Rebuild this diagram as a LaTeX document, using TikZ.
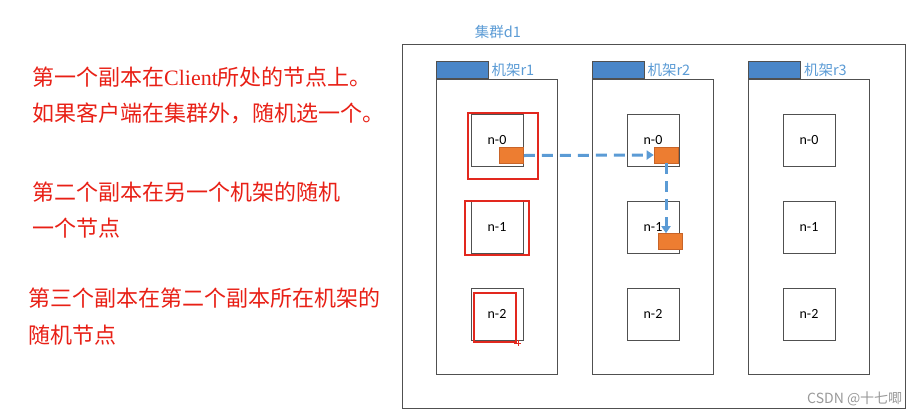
\documentclass[tikz,border=0pt]{standalone}
\usepackage{fontspec}
\setmainfont{Carlito}
\newfontfamily\cjk{Noto Sans CJK SC}
\newfontfamily\clientfont{Liberation Serif}
\usetikzlibrary{positioning}
\usetikzlibrary{arrows.meta}
\definecolor{linegray}{RGB}{80,80,80}
\definecolor{headblue}{RGB}{74,134,200}
\definecolor{labelblue}{RGB}{91,155,213}
\definecolor{arrowblue}{RGB}{91,155,213}
\definecolor{blkorange}{RGB}{237,125,49}
\definecolor{orangeedge}{RGB}{200,100,40}
\definecolor{notered}{RGB}{232,32,22}
\definecolor{markred}{RGB}{226,40,30}

\begin{document}
\begin{tikzpicture}[x=1pt, y=-1pt,
    rack/.style={draw=linegray, line width=1pt, minimum width=121pt, minimum height=295pt, inner sep=0pt},
    head/.style={draw=linegray, fill=headblue, line width=0.8pt, minimum width=52pt, minimum height=17pt, inner sep=0pt},
    srv/.style={draw=linegray, fill=white, line width=1pt, minimum size=52pt, inner sep=0pt, font=\fontsize{14}{14}\selectfont},
    blk/.style={draw=orangeedge, fill=blkorange, line width=0.6pt, minimum width=24pt, minimum height=16pt, inner sep=0pt},
    tag/.style={text=labelblue, inner sep=0pt, font=\cjk\fontsize{14.5}{15}\selectfont},
    note/.style={text=notered, anchor=west, inner sep=0pt, font=\cjk\fontsize{22}{22}\selectfont},
    redmark/.style={draw=markred, line width=1.2pt},
    repl/.style={draw=arrowblue, line width=3pt, dash pattern=on 11pt off 7pt, -{Triangle[length=7pt,width=9pt]}}]

    \useasboundingbox (0,0) rectangle (923,416);

    % notes
    \node[note] at (32,77) (t1) {第一个副本在{\clientfont Client}所处的节点上。};
    \node[note] at (32,113) (t2) {如果客户端在集群外，随机选一个。};
    \node[note] at (32,192) (t3) {第二个副本在另一个机架的随机};
    \node[note] at (32,228) (t4) {一个节点};
    \node[note] at (28,298) (t5) {第三个副本在第二个副本所在机架的};
    \node[note] at (28,335) (t6) {随机节点};

    % cluster
    \node[draw=linegray, line width=1pt, minimum width=503pt, minimum height=364pt] at (653.5,226) (d1) {};
    \node[tag] at (498,32) (ld1) {集群d1};

    % racks
    \node[rack] at (496.5,226.5) (r1) {};
    \node[rack] at (652.5,226.5) (r2) {};
    \node[rack] at (809,226.5) (r3) {};
    \node[head, above right=0pt and 0pt of r1.north west] (h1) {};
    \node[head, above right=0pt and 0pt of r2.north west] (h2) {};
    \node[head, above right=0pt and 0pt of r3.north west] (h3) {};
    \node[tag, right=3pt of h1] (l1) {机架r1};
    \node[tag, right=3pt of h2] (l2) {机架r2};
    \node[tag, right=3pt of h3] (l3) {机架r3};

    % nodes
    \node[srv] at (497,140) (n10) {n-0};
    \node[srv] at (497,227) (n11) {n-1};
    \node[srv] at (497,314) (n12) {n-2};
    \node[srv] at (653,140) (n20) {n-0};
    \node[srv] at (653,227) (n21) {n-1};
    \node[srv] at (653,314) (n22) {n-2};
    \node[srv] at (809,140) (n30) {n-0};
    \node[srv] at (809,227) (n31) {n-1};
    \node[srv] at (809,314) (n32) {n-2};

    % replicas
    \node[blk] at (511.5,155.5) (o1) {};
    \node[blk] at (666,155) (o2) {};
    \node[blk] at (670,241.5) (o3) {};
    \draw[repl] (o1.east) -- (o2.west);
    \draw[repl] (o2.south) -- (o2.south |- o3.north);

    % hand marks
    \draw[redmark] (468,113) rectangle (538,179);
    \draw[redmark] (465,201) rectangle (529,255);
    \draw[redmark] (474,293) rectangle (516,342);
    \draw[redmark, line width=0.8pt] (514,343) -- (521,343) (518,340) -- (518,346);

    \node[text=gray!80, anchor=west, inner sep=0pt, font=\cjk\fontsize{14}{14}\selectfont] at (807,399) (wm) {CSDN @十七唧};
\end{tikzpicture}
\end{document}
